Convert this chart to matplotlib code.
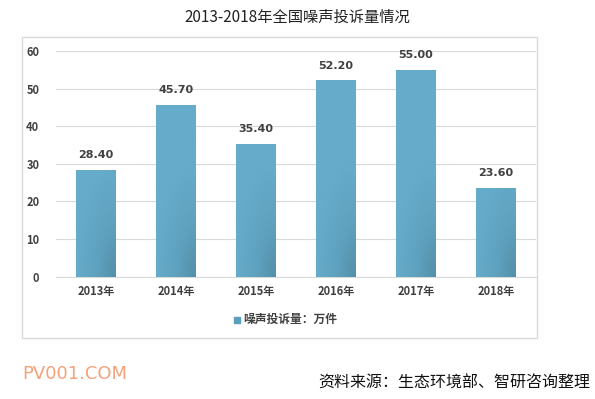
import numpy as np
import matplotlib.pyplot as plt
from matplotlib.patches import Rectangle
from matplotlib.colors import LinearSegmentedColormap

plt.rcParams['font.family'] = ['Noto Sans CJK SC', 'DejaVu Sans']

years = ['2013年', '2014年', '2015年', '2016年', '2017年', '2018年']
values = [28.40, 45.70, 35.40, 52.20, 55.00, 23.60]
yticks = [0, 10, 20, 30, 40, 50, 60]

fig = plt.figure(figsize=(5.95, 3.99), dpi=100)

# outer chart frame
frame = Rectangle((22 / 595, 1 - 338 / 399), (537 - 22) / 595, (338 - 37) / 399,
                  transform=fig.transFigure, fill=False, edgecolor='#d9d9d9', lw=1)
fig.patches.append(frame)

ax = fig.add_axes([56 / 595, 1 - 276.7 / 399, (536 - 56) / 595, (276.7 - 51) / 399])
x = np.arange(len(years))
bars = ax.bar(x, values, width=0.5, color='#62a8c8', zorder=2)

# gradient fill: light top, slightly darker bottom-right corner
cmap = LinearSegmentedColormap.from_list('bar', ['#66abca', '#5fa2c0', '#5490a9'])
gx, gy = np.meshgrid(np.linspace(0, 1, 60), np.linspace(0, 1, 200))
for b, v in zip(bars, values):
    x0, w = b.get_x(), b.get_width()
    h = b.get_height()
    d = np.clip(1 - np.sqrt((1 - gx) ** 2 + (gy * h / 30) ** 2), 0, 1)
    img = ax.imshow(d, cmap=cmap, vmin=0, vmax=1, origin='lower', aspect='auto',
                    extent=(x0, x0 + w, 0, h), zorder=3)
    img.set_clip_path(b)
    ax.text(b.get_x() + w / 2, v + 2.6, f'{v:.2f}', ha='center', va='bottom',
            fontsize=8, fontweight='bold', color='#404040', family='DejaVu Sans')

ax.set_xlim(-0.5, len(years) - 0.5)
ax.set_ylim(0, 60)
ax.set_yticks(yticks)
ax.set_xticks(x)
ax.set_xticklabels(years, fontsize=8, fontweight='bold', color='#404040')
ax.set_yticklabels([str(t) for t in yticks], fontsize=8, fontweight='bold', color='#404040')
ax.yaxis.grid(True, color='#d9d9d9', lw=0.8, zorder=0)
ax.set_axisbelow(True)
for s in ['top', 'right', 'left']:
    ax.spines[s].set_visible(False)
ax.spines['bottom'].set_color('#d9d9d9')
ax.tick_params(axis='both', length=0)
ax.tick_params(axis='y', pad=12)
ax.tick_params(axis='x', pad=6)

# legend
fig.patches.append(Rectangle((234 / 595, 1 - 323 / 399), 6 / 595, 6 / 399,
                             transform=fig.transFigure, color='#5a9fbd'))
fig.text(243 / 595, 1 - 319.5 / 399, '噪声投诉量：万件', fontsize=8.5, fontweight='bold',
         color='#404040', va='center', ha='left')

fig.text(297 / 595, 1 - 17 / 399, '2013-2018年全国噪声投诉量情况', fontsize=11,
         ha='center', va='center', color='#222222')
fig.text(22 / 595, 1 - 374 / 399, 'PV001.COM', fontsize=13, color='#f4a27a',
         ha='left', va='center', family='DejaVu Sans')
fig.text(590 / 595, 1 - 383 / 399, '资料来源：生态环境部、智研咨询整理', fontsize=11.5,
         ha='right', va='center', color='#111111')

fig.savefig('out.png', dpi=100)
